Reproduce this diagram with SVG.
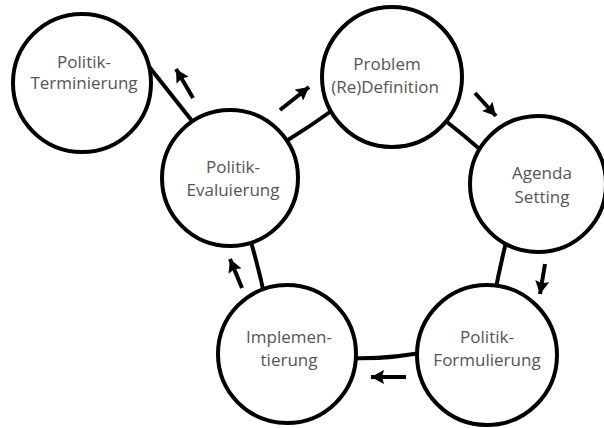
<svg xmlns="http://www.w3.org/2000/svg" width="604" height="428" viewBox="0 0 604 428">
<style>
.node{fill:#fff;stroke:#000;stroke-width:4}
.lbl{font-family:"Open Sans","Noto Sans",sans-serif;font-size:17px;fill:#555;text-anchor:middle}
.link{fill:none;stroke:#000;stroke-width:4}
.arr{stroke:#000;stroke-width:4;fill:none;marker-end:url(#ah)}
</style>
<defs>
<marker id="ah" markerUnits="userSpaceOnUse" markerWidth="14" markerHeight="14" viewBox="0 0 13 14" refX="13" refY="7" orient="auto">
<path d="M0,0 L13,7 L0,14 L2,7 Z" fill="#000"/>
</marker>
</defs>
<g id="connectors">
<line class="link" x1="143" y1="59" x2="200" y2="131"/>
<path class="link" d="M280,145 Q311,126 340,105"/>
<path class="link" d="M437,114 Q464,135 490,158"/>
<path class="link" d="M508,234 Q500,266 494,298"/>
<path class="link" d="M345,358 Q388,360 430,351"/>
<path class="link" d="M248,232 Q259,268 266,303"/>
<line class="arr" x1="193" y1="98" x2="176" y2="69"/>
<line class="arr" x1="280" y1="110" x2="309" y2="87"/>
<line class="arr" x1="475" y1="93" x2="496" y2="116"/>
<line class="arr" x1="545" y1="264" x2="540" y2="294"/>
<line class="arr" x1="406" y1="377" x2="371" y2="377"/>
<line class="arr" x1="242" y1="288" x2="230" y2="259"/>
</g>
<g id="terminierung">
<circle class="node" cx="82" cy="83" r="69"/>
<text class="lbl" x="84" y="68">Politik-</text>
<text class="lbl" x="84" y="89">Terminierung</text>
</g>
<g id="evaluierung">
<circle class="node" cx="230" cy="178" r="68"/>
<text class="lbl" x="233" y="173">Politik-</text>
<text class="lbl" x="233" y="196">Evaluierung</text>
</g>
<g id="problem">
<circle class="node" cx="392" cy="77" r="70"/>
<text class="lbl" x="387" y="70">Problem</text>
<text class="lbl" x="385" y="93">(Re)Definition</text>
</g>
<g id="agenda">
<circle class="node" cx="538" cy="184" r="68"/>
<text class="lbl" x="542" y="179">Agenda</text>
<text class="lbl" x="542" y="203">Setting</text>
</g>
<g id="formulierung">
<circle class="node" cx="487" cy="355" r="70"/>
<text class="lbl" x="487" y="343">Politik-</text>
<text class="lbl" x="487" y="366">Formulierung</text>
</g>
<g id="implementierung">
<circle class="node" cx="287" cy="354" r="69"/>
<text class="lbl" x="289" y="343">Implemen-</text>
<text class="lbl" x="289" y="366">tierung</text>
</g>
</svg>
